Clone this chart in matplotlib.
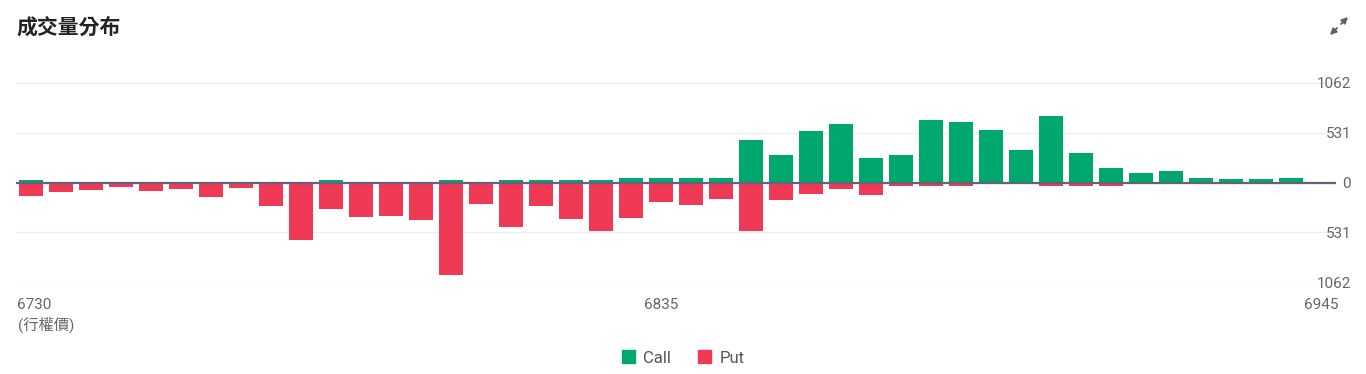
import matplotlib
matplotlib.use('Agg')
import matplotlib.pyplot as plt
from matplotlib.patches import Patch
from matplotlib.transforms import ScaledTranslation

plt.rcParams['font.family'] = ['Roboto', 'Noto Sans CJK TC', 'DejaVu Sans']

strikes = [6730, 6735, 6740, 6745, 6750, 6755, 6760, 6765, 6770, 6775, 6780,
           6785, 6790, 6795, 6800, 6805, 6810, 6815, 6820, 6825, 6830, 6835,
           6840, 6845, 6850, 6855, 6860, 6865, 6870, 6875, 6880, 6885, 6890,
           6895, 6900, 6905, 6910, 6915, 6920, 6925, 6930, 6935, 6940, 6945]
call_vol = [25, 0, 0, 0, 0, 0, 0, 0, 0, 0, 25,
            0, 0, 0, 25, 0, 25, 25, 25, 25, 52, 52,
            52, 52, 453, 299, 546, 621, 267, 300, 666, 644, 562,
            351, 709, 311, 161, 107, 129, 54, 36, 36, 54, 0]
put_vol = [138, 97, 75, 43, 93, 64, 150, 54, 247, 612, 276,
           365, 358, 398, 988, 229, 476, 251, 387, 519, 380, 208,
           240, 176, 516, 183, 125, 68, 133, 39, 39, 39, 0,
           0, 39, 39, 39, 0, 0, 0, 0, 0, 0, 0]
ymax = 1062
yticks = [-1062, -531, 0, 531, 1062]
shown_strikes = [6730, 6835, 6945]

green = '#00a86e'
red = '#f03a55'

W, H = 1366, 374
fig = plt.figure(figsize=(W / 100, H / 100), dpi=100)
ax = fig.add_axes([16 / W, 1 - 282.3 / H, (1336 - 16) / W, (282.3 - 83) / H])

x = list(range(len(strikes)))
ax.bar(x, call_vol, width=0.8, color=green, zorder=2)
ax.bar(x, [-v for v in put_vol], width=0.8, color=red, zorder=2)
ax.axhline(0, color='#5f6577', lw=1.6, zorder=3)

ax.set_xlim(-0.5, len(strikes) - 0.5)
ax.set_ylim(-ymax, ymax)
ax.set_yticks(yticks)
ax.set_yticklabels([str(abs(v)) for v in yticks])
ax.yaxis.tick_right()
ax.tick_params(axis='y', length=0, pad=10.8, labelsize=11, labelcolor='#666666')
for lab in ax.get_yticklabels():
    lab.set_horizontalalignment('right')
ax.grid(axis='y', color='#efefef', lw=1, zorder=0)

ax.set_xticks([strikes.index(s) for s in shown_strikes])
ax.set_xticklabels([str(s) for s in shown_strikes])
ax.tick_params(axis='x', length=0, pad=11, labelsize=11, labelcolor='#666666')
# nudge the first label a bit to the right like the original
first = ax.get_xticklabels()[0]
first.set_transform(first.get_transform() + ScaledTranslation(3 / 100, 0, fig.dpi_scale_trans))

for s in ax.spines.values():
    s.set_visible(False)

fig.text(16 / W, 1 - 27 / H, '成交量分布', fontsize=15, fontweight='bold',
         color='#222222', va='center', ha='left')
fig.text(18 / W, 1 - 325 / H, '(行權價)', fontsize=11, color='#666666',
         va='center', ha='left')

# expand icon
arrow = dict(arrowstyle='-|>', color='#606060', lw=1.3, mutation_scale=9,
             shrinkA=0, shrinkB=0)
ax.annotate('', xy=(1348 / W, 1 - 17 / H), xytext=(1341 / W, 1 - 24 / H),
            xycoords='figure fraction', arrowprops=arrow)
ax.annotate('', xy=(1330 / W, 1 - 35 / H), xytext=(1337 / W, 1 - 28 / H),
            xycoords='figure fraction', arrowprops=arrow)

handles = [Patch(color=green, label='Call'), Patch(color=red, label='Put')]
fig.legend(handles=handles, loc='center', bbox_to_anchor=(683 / W, 1 - 358 / H),
           ncol=2, frameon=False, fontsize=12, handlelength=0.8, handleheight=0.8,
           handletextpad=0.5, columnspacing=1.6, labelcolor='#555555')

fig.savefig('out.png', dpi=100)
